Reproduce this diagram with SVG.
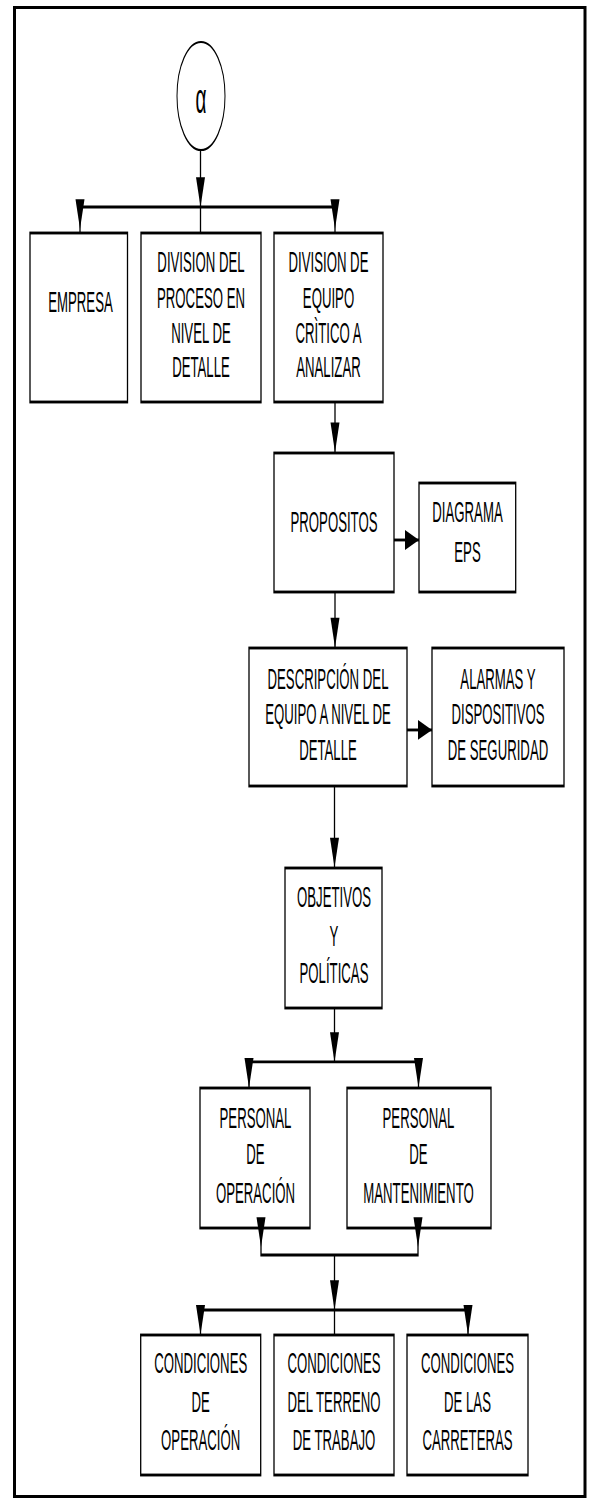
<svg xmlns="http://www.w3.org/2000/svg" width="593" height="1505" viewBox="0 0 593 1505">
<style>
.box{fill:#fff;stroke:#000;stroke-width:1.3}
.lbl{font-family:"Liberation Sans",Arial,sans-serif;font-size:13.2px;text-anchor:middle;fill:#000}
.ln{fill:none;stroke:#000;stroke-width:1.3}
.ah{fill:#000;stroke:none}
</style>
<defs>
<path id="ad" d="M0,0 L-4.5,-13.5 L4.5,-13.5 Z"/>
<path id="ar" d="M0,0 L-14,-4.5 L-14,4.5 Z"/>
</defs>
<rect x="0" y="0" width="593" height="1505" fill="#fff"/>
<rect x="14.5" y="7.5" width="570.5" height="1489" fill="none" stroke="#000" stroke-width="3"/>
<g transform="scale(1,2.2)">
  <g id="start">
    <ellipse cx="201" cy="43.64" rx="24" ry="24.55" fill="#fff" stroke="#000" stroke-width="1"/>
    <text class="lbl" x="201" y="51.4" style="font-size:19px">α</text>
  </g>
  <g id="empresa">
    <rect class="box" x="30" y="105.91" width="97.5" height="76.82"/>
    <text class="lbl" x="80.5" y="141.8">EMPRESA</text>
  </g>
  <g id="division-proceso">
    <rect class="box" x="141" y="105.91" width="120" height="76.82"/>
    <text class="lbl" x="201" y="123.6">DIVISION DEL</text>
    <text class="lbl" x="201" y="140">PROCESO EN</text>
    <text class="lbl" x="201" y="155.9">NIVEL DE</text>
    <text class="lbl" x="201" y="171.4">DETALLE</text>
  </g>
  <g id="division-equipo">
    <rect class="box" x="274" y="105.91" width="109" height="76.82"/>
    <text class="lbl" x="328.5" y="123.6">DIVISION DE</text>
    <text class="lbl" x="328.5" y="140">EQUIPO</text>
    <text class="lbl" x="328.5" y="155.9">CRÌTICO A</text>
    <text class="lbl" x="328.5" y="171.4">ANALIZAR</text>
  </g>
  <g id="propositos">
    <rect class="box" x="274" y="205.91" width="120" height="63.18"/>
    <text class="lbl" x="334" y="241.8">PROPOSITOS</text>
  </g>
  <g id="diagrama-eps">
    <rect class="box" x="419" y="219.55" width="96.7" height="49.55"/>
    <text class="lbl" x="467.5" y="237.3">DIAGRAMA</text>
    <text class="lbl" x="467.5" y="255.5">EPS</text>
  </g>
  <g id="descripcion">
    <rect class="box" x="249" y="294.55" width="158" height="62.73"/>
    <text class="lbl" x="328" y="313.2">DESCRIPCIÓN DEL</text>
    <text class="lbl" x="328" y="329.3">EQUIPO A NIVEL DE</text>
    <text class="lbl" x="328" y="345.5">DETALLE</text>
  </g>
  <g id="alarmas">
    <rect class="box" x="432" y="294.55" width="132" height="62.73"/>
    <text class="lbl" x="498" y="313.2">ALARMAS Y</text>
    <text class="lbl" x="498" y="329.3">DISPOSITIVOS</text>
    <text class="lbl" x="498" y="345.5">DE SEGURIDAD</text>
  </g>
  <g id="objetivos">
    <rect class="box" x="285" y="394.55" width="97" height="63.64"/>
    <text class="lbl" x="334" y="412.3">OBJETIVOS</text>
    <text class="lbl" x="334" y="430">Y</text>
    <text class="lbl" x="334" y="446.8">POLÍTICAS</text>
  </g>
  <g id="personal-operacion">
    <rect class="box" x="200" y="494.55" width="110" height="63.64"/>
    <text class="lbl" x="255.5" y="512.7">PERSONAL</text>
    <text class="lbl" x="255.5" y="529.1">DE</text>
    <text class="lbl" x="255.5" y="546.8">OPERACIÓN</text>
  </g>
  <g id="personal-mantenimiento">
    <rect class="box" x="347" y="494.55" width="144" height="63.64"/>
    <text class="lbl" x="418.5" y="512.7">PERSONAL</text>
    <text class="lbl" x="418.5" y="529.1">DE</text>
    <text class="lbl" x="418.5" y="546.8">MANTENIMIENTO</text>
  </g>
  <g id="cond-operacion">
    <rect class="box" x="140.7" y="606.82" width="120" height="63.64"/>
    <text class="lbl" x="200.7" y="624.1">CONDICIONES</text>
    <text class="lbl" x="200.7" y="641.8">DE</text>
    <text class="lbl" x="200.7" y="659.1">OPERACIÓN</text>
  </g>
  <g id="cond-terreno">
    <rect class="box" x="274" y="606.82" width="120" height="63.64"/>
    <text class="lbl" x="334" y="624.1">CONDICIONES</text>
    <text class="lbl" x="334" y="641.8">DEL TERRENO</text>
    <text class="lbl" x="334" y="659.1">DE TRABAJO</text>
  </g>
  <g id="cond-carreteras">
    <rect class="box" x="407" y="606.82" width="121" height="63.64"/>
    <text class="lbl" x="467.5" y="624.1">CONDICIONES</text>
    <text class="lbl" x="467.5" y="641.8">DE LAS</text>
    <text class="lbl" x="467.5" y="659.1">CARRETERAS</text>
  </g>
  <g id="connectors">
    <path class="ln" d="M200.5,68.2 V94.1"/>
    <use href="#ad" class="ah" x="200.5" y="94.1"/>
    <path class="ln" d="M80,105.9 V94.1 H335 V105.9"/>
    <path class="ln" d="M200.5,94.1 V105.9"/>
    <use href="#ad" class="ah" x="80" y="104.1"/>
    <use href="#ad" class="ah" x="335" y="104.1"/>
    <path class="ln" d="M335,182.7 V205.9"/>
    <use href="#ad" class="ah" x="335" y="205.6"/>
    <path class="ln" d="M394,245.45 H419"/>
    <use href="#ar" class="ah" x="419" y="245.45"/>
    <path class="ln" d="M335,269.1 V294.55"/>
    <use href="#ad" class="ah" x="335" y="294.3"/>
    <path class="ln" d="M407,331.8 H432"/>
    <use href="#ar" class="ah" x="432" y="331.8"/>
    <path class="ln" d="M334.5,357.3 V394.55"/>
    <use href="#ad" class="ah" x="334.5" y="394.3"/>
    <path class="ln" d="M334.5,458.2 V482.7"/>
    <use href="#ad" class="ah" x="334.5" y="482.7"/>
    <path class="ln" d="M249,494.55 V482.7 H418.5 V494.55"/>
    <use href="#ad" class="ah" x="249" y="494.4"/>
    <use href="#ad" class="ah" x="418.5" y="494.4"/>
    <path class="ln" d="M261,558.2 V570.45 H418 V558.2"/>
    <use href="#ad" class="ah" x="261" y="566.8"/>
    <use href="#ad" class="ah" x="418" y="566.8"/>
    <path class="ln" d="M334.5,570.45 V595.45"/>
    <use href="#ad" class="ah" x="334.5" y="595.45"/>
    <path class="ln" d="M200.5,606.8 V595.45 H468 V606.8"/>
    <path class="ln" d="M334.5,595.45 V606.8"/>
    <use href="#ad" class="ah" x="200.5" y="606.7"/>
    <use href="#ad" class="ah" x="468" y="606.7"/>
  </g>
</g>
</svg>
